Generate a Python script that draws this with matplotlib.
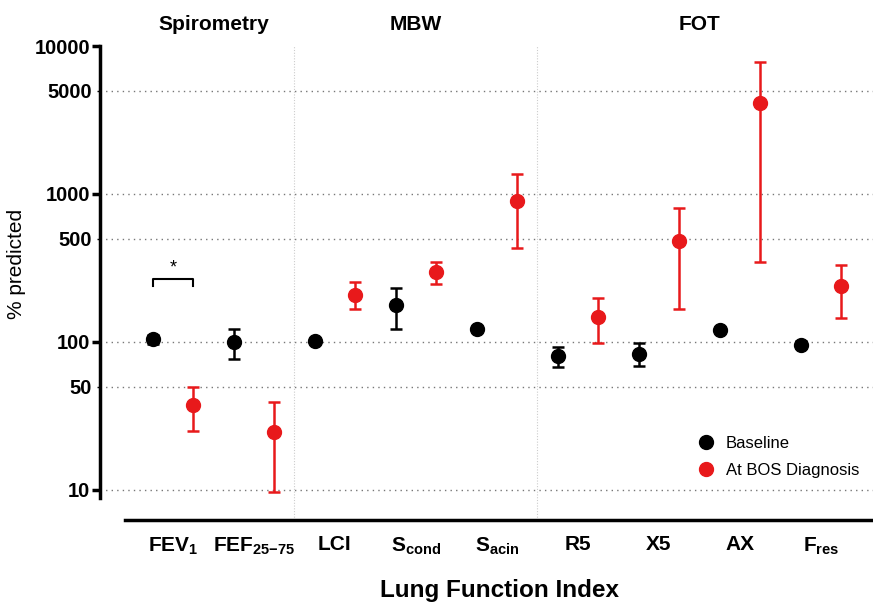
import matplotlib.pyplot as plt
import numpy as np
from matplotlib.lines import Line2D

plt.rcParams['font.family'] = ['Liberation Sans', 'DejaVu Sans']
plt.rcParams['mathtext.fontset'] = 'custom'
plt.rcParams['mathtext.rm'] = 'Liberation Sans:bold'
plt.rcParams['mathtext.it'] = 'Liberation Sans:bold'
plt.rcParams['mathtext.bf'] = 'Liberation Sans:bold'

categories = ['FEV$_1$', 'FEF$_{25{-}75}$', 'LCI', 'S$_{cond}$', 'S$_{acin}$',
              'R5', 'X5', 'AX', 'F$_{res}$']
groups = ['Spirometry', 'MBW', 'FOT']
group_pos = [0.5, 3.0, 6.5]

baseline_mean = [104, 100, 101, 177, 123, 80.5, 83.5, 121, 96]
baseline_lo = [97, 77, 98, 123, 120, 68, 69, 118, 91]
baseline_hi = [111, 123, 104, 230, 127, 92.5, 98, 124, 101]

bos_mean = [37.4, 24.6, 209, 297, 891, 147, 484, 4090, 239]
bos_lo = [24.9, 9.7, 166, 248, 430, 98, 166, 348, 146]
bos_hi = [50, 39.6, 254, 347, 1361, 197, 800, 7850, 331]

red = '#e8191b'

fig = plt.figure(figsize=(8.73, 6.07), dpi=100)
ax = fig.add_axes([100 / 873, 1 - 520 / 607, 775 / 873, 474 / 607])
ax.set_yscale('log')

x = np.arange(len(categories))
off = 0.25

bm = np.array(baseline_mean)
ax.errorbar(x - off, bm, yerr=[bm - np.array(baseline_lo), np.array(baseline_hi) - bm],
            fmt='o', color='black', ms=10, elinewidth=1.8, capsize=4.5, capthick=1.8, zorder=3)
rm = np.array(bos_mean)
ax.errorbar(x + off, rm, yerr=[rm - np.array(bos_lo), np.array(bos_hi) - rm],
            fmt='o', color=red, ms=10, elinewidth=1.8, capsize=4.5, capthick=1.8, zorder=3)

# gridlines
for g in [10, 50, 100, 500, 1000, 5000]:
    ax.axhline(g, color='#777777', ls=(0, (1, 3)), lw=1.0, zorder=1)

# group separators
for s in [1.5, 4.5]:
    ax.plot([s, s], [6.3, 10000], color='#cccccc', ls=(0, (1, 1.5)), lw=0.8, zorder=1, clip_on=False)

ax.set_xlim(-0.90, 8.667)
ax.set_ylim(6.27, 10000)

ax.spines['top'].set_visible(False)
ax.spines['right'].set_visible(False)
ax.spines['left'].set_linewidth(2.5)
ax.spines['bottom'].set_linewidth(2.5)
ax.spines['left'].set_bounds(8.8, 10000)
ax.spines['bottom'].set_bounds(-0.59, 8.667)

ax.set_yticks([10, 100, 1000, 10000])
ax.set_yticklabels(['10', '100', '1000', '10000'])
ax.set_yticks([50, 500, 5000], minor=True)
ax.set_yticklabels(['50', '500', '5000'], minor=True)
ax.tick_params(axis='y', which='major', length=6, width=2.5, labelsize=14.5, pad=1)
ax.tick_params(axis='y', which='minor', length=2, width=1, labelsize=14.5, pad=4)
for lab in ax.get_yticklabels(which='both'):
    lab.set_fontweight('bold')

ax.set_xticks(x)
ax.set_xticklabels(categories, fontsize=15, fontweight='bold')
ax.tick_params(axis='x', length=0, pad=11)

ax.set_ylabel('% predicted', fontsize=15)
ax.yaxis.set_label_coords(-0.095, 0.54)
ax.set_xlabel('Lung Function Index', fontsize=17.5, fontweight='bold')
ax.xaxis.set_label_coords(0.515, -0.125)

for name, gx in zip(groups, group_pos):
    ax.text(gx, 14000, name, ha='center', va='center', fontsize=15, fontweight='bold')

# significance bracket
ax.plot([-off, -off, off, off], [238, 268, 268, 238], color='black', lw=1.5)
ax.text(0, 276, '*', ha='center', va='bottom', fontsize=13)

handles = [Line2D([], [], marker='o', ls='', color='black', ms=10),
           Line2D([], [], marker='o', ls='', color=red, ms=10)]
ax.legend(handles, ['Baseline', 'At BOS Diagnosis'], loc='upper left',
          bbox_to_anchor=(0.76, 0.195), frameon=False, fontsize=12,
          handlelength=1.0, handletextpad=0.7, labelspacing=0.7, borderpad=0)

fig.savefig('out.png', dpi=100)
